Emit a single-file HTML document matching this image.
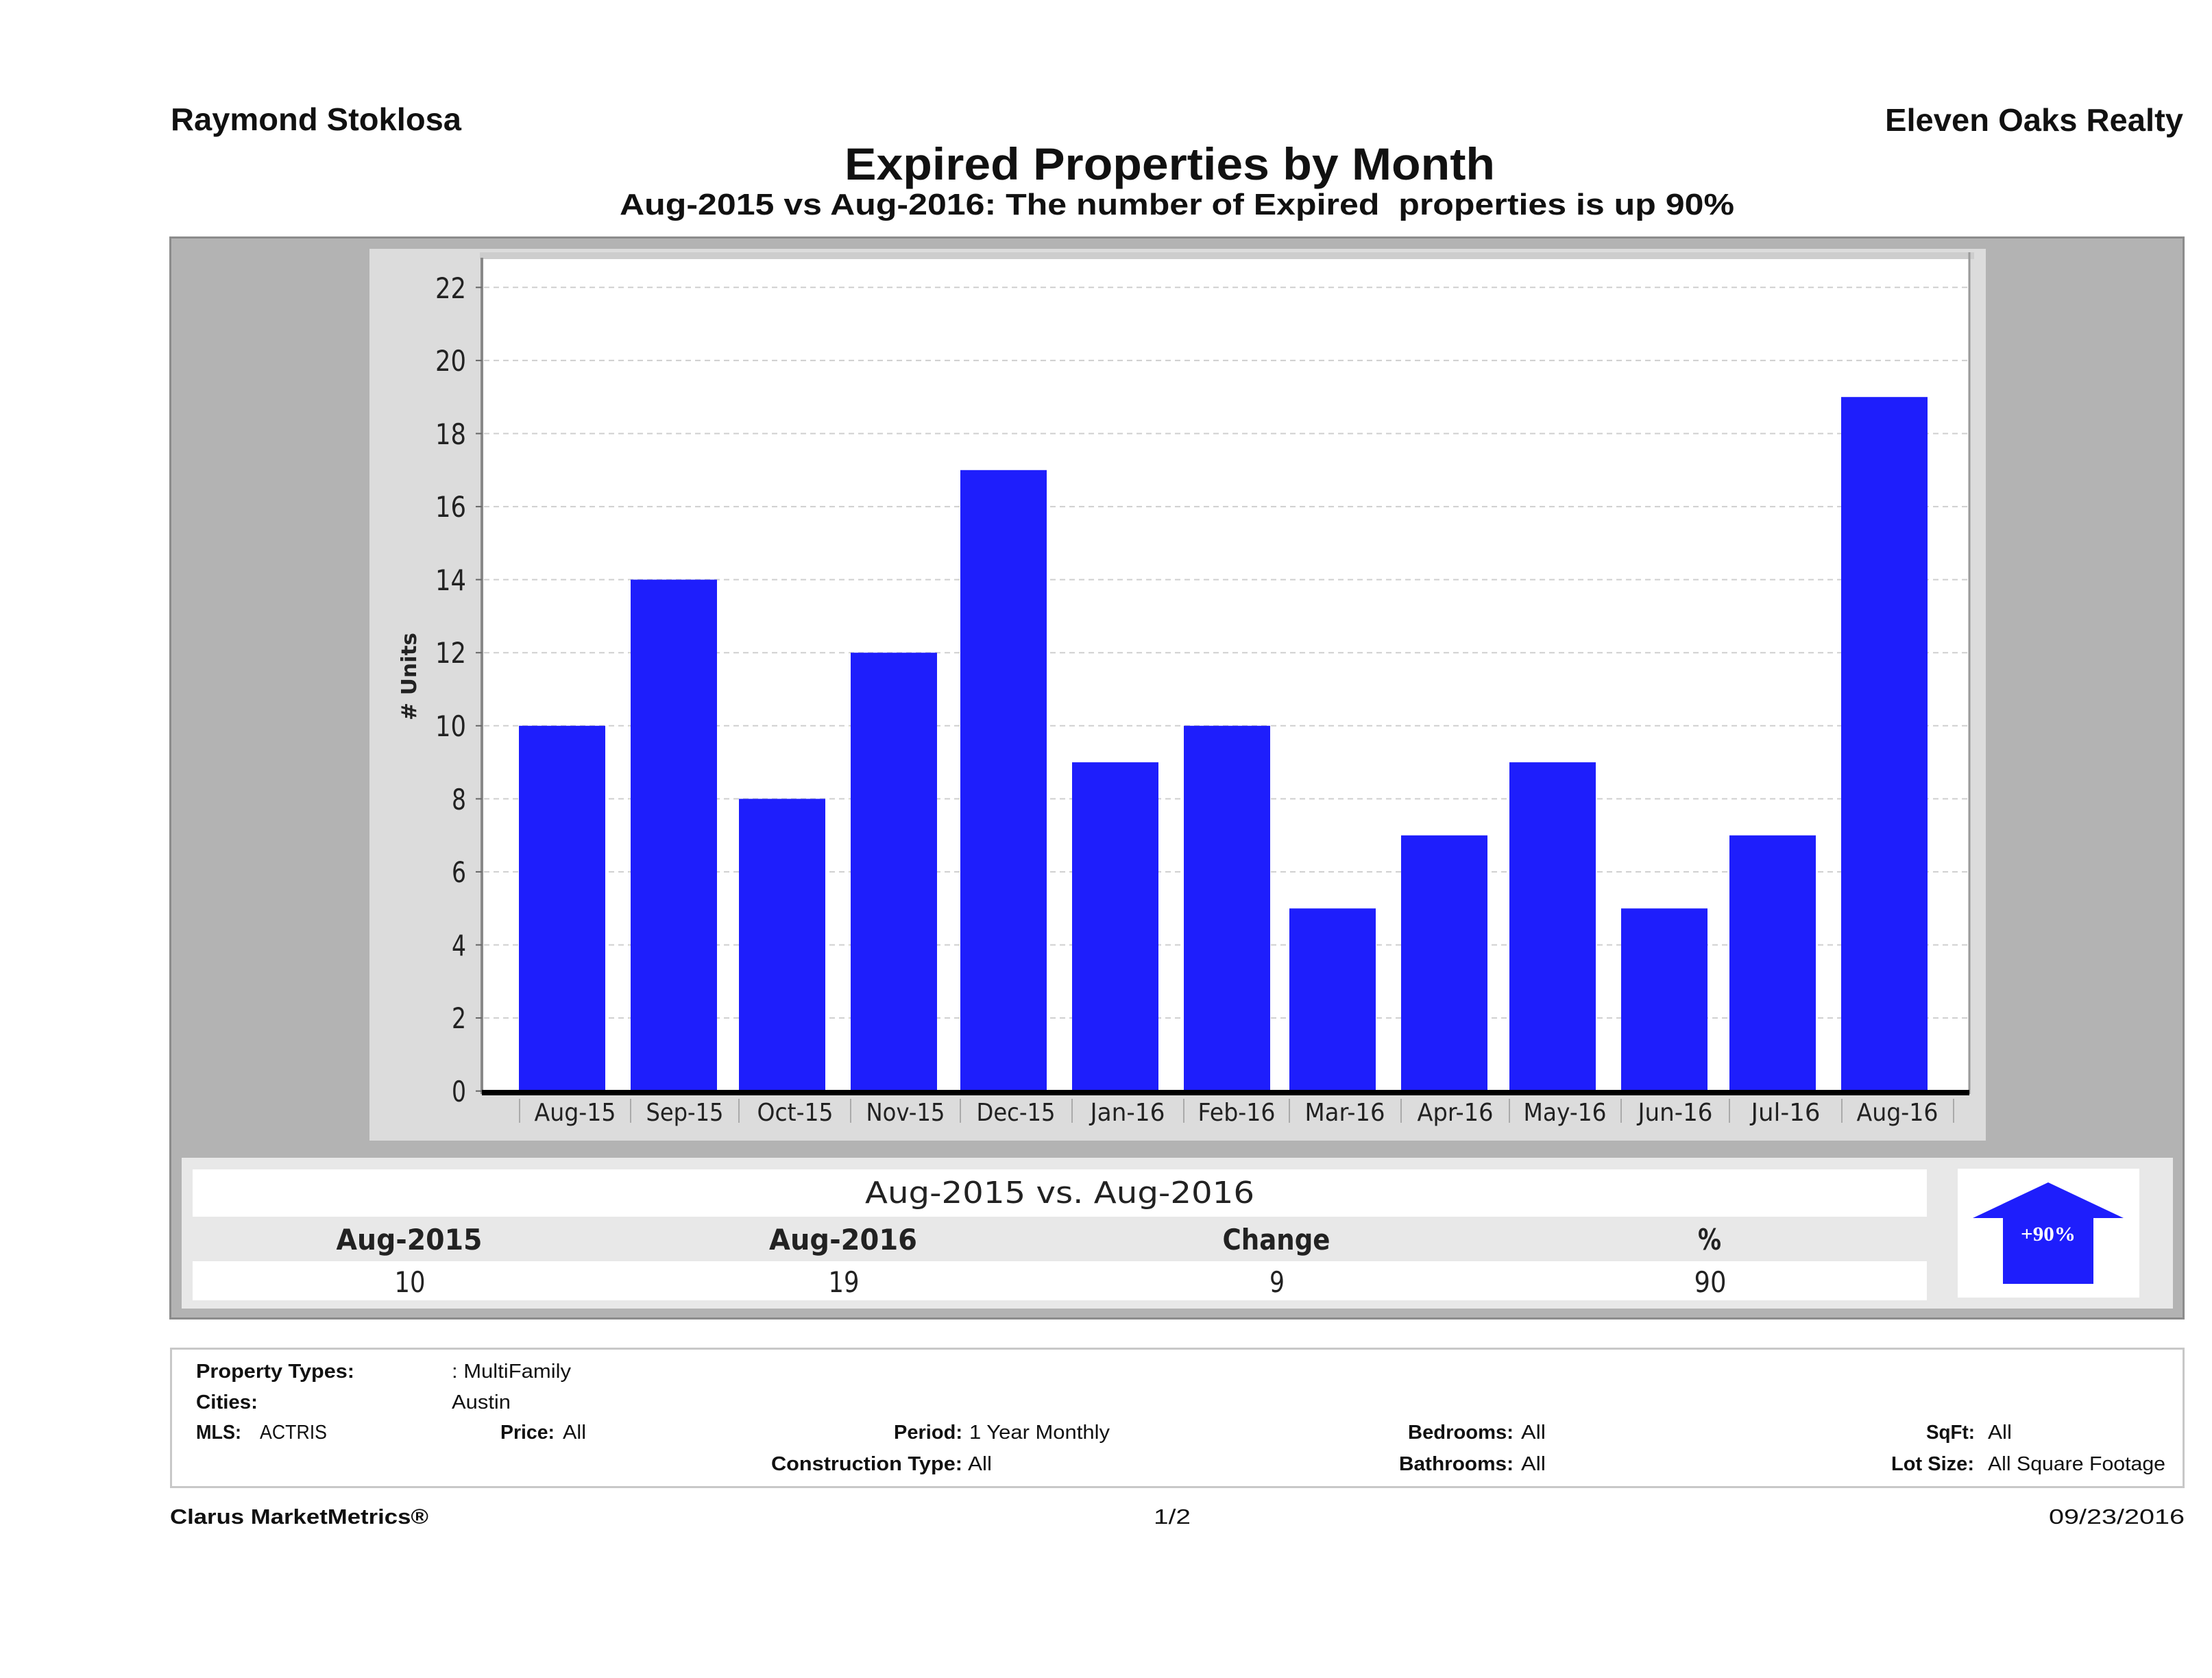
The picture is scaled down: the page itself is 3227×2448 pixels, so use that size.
<!DOCTYPE html>
<html>
<head>
<meta charset="utf-8">
<style>
html,body{margin:0;padding:0;background:#fff;}
svg{display:block;}
text{white-space:pre;}
.h{font-family:"Liberation Sans",sans-serif;font-weight:bold;fill:#111;}
.ax{font-family:"DejaVu Sans","Liberation Sans",sans-serif;fill:#222;}
.lb{font-family:"Liberation Sans",sans-serif;font-weight:bold;fill:#111;font-size:29px;}
.vl{font-family:"Liberation Sans",sans-serif;fill:#111;font-size:29px;}
</style>
</head>
<body>
<svg width="3227" height="2448" viewBox="0 0 3227 2448" xmlns="http://www.w3.org/2000/svg">
<rect x="0" y="0" width="3227" height="2448" fill="#fff"/>

<!-- header -->
<text class="h" x="249" y="190" font-size="46" textLength="424" lengthAdjust="spacingAndGlyphs">Raymond Stoklosa</text>
<text class="h" x="3185" y="191" font-size="46" text-anchor="end" textLength="435" lengthAdjust="spacingAndGlyphs">Eleven Oaks Realty</text>
<text class="h" x="1232" y="262" font-size="66" textLength="949" lengthAdjust="spacingAndGlyphs">Expired Properties by Month</text>
<text class="h" x="904" y="313" font-size="44" textLength="1626" lengthAdjust="spacingAndGlyphs">Aug-2015 vs Aug-2016: The number of Expired  properties is up 90%</text>

<!-- outer gray panel -->
<rect x="248.5" y="346.5" width="2937" height="1577" fill="#b3b3b3" stroke="#8c8c8c" stroke-width="3"/>
<!-- inner chart panel -->
<rect x="539" y="363" width="2358" height="1301" fill="#dcdcdc"/>
<!-- plot area -->
<rect x="700" y="368" width="2180" height="10" fill="#cdcdcd"/>
<rect x="703" y="378" width="2169" height="1216" fill="#fff"/>
<line x1="2873" y1="368" x2="2873" y2="1596" stroke="#9a9a9a" stroke-width="3"/>

<!-- gridlines -->
<g stroke="#cfcfcf" stroke-width="2" stroke-dasharray="8,6">
<line x1="706" y1="1485.1" x2="2871" y2="1485.1"/>
<line x1="706" y1="1378.5" x2="2871" y2="1378.5"/>
<line x1="706" y1="1271.9" x2="2871" y2="1271.9"/>
<line x1="706" y1="1165.4" x2="2871" y2="1165.4"/>
<line x1="706" y1="1058.8" x2="2871" y2="1058.8"/>
<line x1="706" y1="952.2" x2="2871" y2="952.2"/>
<line x1="706" y1="845.6" x2="2871" y2="845.6"/>
<line x1="706" y1="739.1" x2="2871" y2="739.1"/>
<line x1="706" y1="632.5" x2="2871" y2="632.5"/>
<line x1="706" y1="525.9" x2="2871" y2="525.9"/>
<line x1="706" y1="419.3" x2="2871" y2="419.3"/>
</g>

<!-- y axis -->
<line x1="703" y1="376" x2="703" y2="1596" stroke="#888" stroke-width="4"/>
<g stroke="#666" stroke-width="2">
<line x1="694" y1="1591.7" x2="703" y2="1591.7"/>
<line x1="694" y1="1485.1" x2="703" y2="1485.1"/>
<line x1="694" y1="1378.5" x2="703" y2="1378.5"/>
<line x1="694" y1="1271.9" x2="703" y2="1271.9"/>
<line x1="694" y1="1165.4" x2="703" y2="1165.4"/>
<line x1="694" y1="1058.8" x2="703" y2="1058.8"/>
<line x1="694" y1="952.2" x2="703" y2="952.2"/>
<line x1="694" y1="845.6" x2="703" y2="845.6"/>
<line x1="694" y1="739.1" x2="703" y2="739.1"/>
<line x1="694" y1="632.5" x2="703" y2="632.5"/>
<line x1="694" y1="525.9" x2="703" y2="525.9"/>
<line x1="694" y1="419.3" x2="703" y2="419.3"/>
</g>
<g class="ax" font-size="42" text-anchor="end">
<text x="680" y="1607" textLength="21" lengthAdjust="spacingAndGlyphs">0</text>
<text x="680" y="1500" textLength="21" lengthAdjust="spacingAndGlyphs">2</text>
<text x="680" y="1394" textLength="21" lengthAdjust="spacingAndGlyphs">4</text>
<text x="680" y="1287" textLength="21" lengthAdjust="spacingAndGlyphs">6</text>
<text x="680" y="1181" textLength="21" lengthAdjust="spacingAndGlyphs">8</text>
<text x="680" y="1074" textLength="45" lengthAdjust="spacingAndGlyphs">10</text>
<text x="680" y="967" textLength="45" lengthAdjust="spacingAndGlyphs">12</text>
<text x="680" y="861" textLength="45" lengthAdjust="spacingAndGlyphs">14</text>
<text x="680" y="754" textLength="45" lengthAdjust="spacingAndGlyphs">16</text>
<text x="680" y="648" textLength="45" lengthAdjust="spacingAndGlyphs">18</text>
<text x="680" y="541" textLength="45" lengthAdjust="spacingAndGlyphs">20</text>
<text x="680" y="435" textLength="45" lengthAdjust="spacingAndGlyphs">22</text>
</g>
<text class="ax" font-weight="bold" font-size="30" text-anchor="middle" transform="translate(607,987) rotate(-90)" textLength="128" lengthAdjust="spacingAndGlyphs"># Units</text>

<!-- bars -->
<g fill="#1e1efc">
<rect x="757" y="1058.8" width="126" height="533"/>
<rect x="920" y="845.6" width="126" height="746"/>
<rect x="1078" y="1165.4" width="126" height="427"/>
<rect x="1241" y="952.2" width="126" height="640"/>
<rect x="1401" y="685.8" width="126" height="906"/>
<rect x="1564" y="1112.1" width="126" height="480"/>
<rect x="1727" y="1058.8" width="126" height="533"/>
<rect x="1881" y="1325.3" width="126" height="267"/>
<rect x="2044" y="1218.7" width="126" height="373"/>
<rect x="2202" y="1112.1" width="126" height="480"/>
<rect x="2365" y="1325.3" width="126" height="267"/>
<rect x="2523" y="1218.7" width="126" height="373"/>
<rect x="2686" y="579.2" width="126" height="1013"/>
</g>

<!-- x axis -->
<rect x="703" y="1590" width="2170" height="8" fill="#000"/>
<g stroke="#aaa" stroke-width="2">
<line x1="758" y1="1603" x2="758" y2="1638"/>
<line x1="920" y1="1603" x2="920" y2="1638"/>
<line x1="1078" y1="1603" x2="1078" y2="1638"/>
<line x1="1241" y1="1603" x2="1241" y2="1638"/>
<line x1="1401" y1="1603" x2="1401" y2="1638"/>
<line x1="1564" y1="1603" x2="1564" y2="1638"/>
<line x1="1727" y1="1603" x2="1727" y2="1638"/>
<line x1="1881" y1="1603" x2="1881" y2="1638"/>
<line x1="2044" y1="1603" x2="2044" y2="1638"/>
<line x1="2202" y1="1603" x2="2202" y2="1638"/>
<line x1="2365" y1="1603" x2="2365" y2="1638"/>
<line x1="2523" y1="1603" x2="2523" y2="1638"/>
<line x1="2687" y1="1603" x2="2687" y2="1638"/>
<line x1="2850" y1="1603" x2="2850" y2="1638"/>
</g>
<g class="ax" font-size="36" text-anchor="middle">
<text x="839" y="1635" textLength="119" lengthAdjust="spacingAndGlyphs">Aug-15</text>
<text x="999" y="1635" textLength="113" lengthAdjust="spacingAndGlyphs">Sep-15</text>
<text x="1160" y="1635" textLength="111" lengthAdjust="spacingAndGlyphs">Oct-15</text>
<text x="1321" y="1635" textLength="115" lengthAdjust="spacingAndGlyphs">Nov-15</text>
<text x="1482" y="1635" textLength="115" lengthAdjust="spacingAndGlyphs">Dec-15</text>
<text x="1645" y="1635" textLength="109" lengthAdjust="spacingAndGlyphs">Jan-16</text>
<text x="1804" y="1635" textLength="113" lengthAdjust="spacingAndGlyphs">Feb-16</text>
<text x="1962" y="1635" textLength="117" lengthAdjust="spacingAndGlyphs">Mar-16</text>
<text x="2123" y="1635" textLength="111" lengthAdjust="spacingAndGlyphs">Apr-16</text>
<text x="2283" y="1635" textLength="121" lengthAdjust="spacingAndGlyphs">May-16</text>
<text x="2444" y="1635" textLength="109" lengthAdjust="spacingAndGlyphs">Jun-16</text>
<text x="2605" y="1635" textLength="101" lengthAdjust="spacingAndGlyphs">Jul-16</text>
<text x="2768" y="1635" textLength="119" lengthAdjust="spacingAndGlyphs">Aug-16</text>
</g>

<!-- summary -->
<rect x="265" y="1689" width="2905" height="220" fill="#e8e8e8"/>
<rect x="281" y="1706" width="2530" height="69" fill="#fff"/>
<rect x="281" y="1840" width="2530" height="57" fill="#fff"/>
<text class="ax" x="1546" y="1755" font-size="44" text-anchor="middle" textLength="568" lengthAdjust="spacingAndGlyphs" fill="#111">Aug-2015 vs. Aug-2016</text>
<g class="ax" font-size="42" font-weight="bold" text-anchor="middle" fill="#111">
<text x="597" y="1823" textLength="213" lengthAdjust="spacingAndGlyphs">Aug-2015</text>
<text x="1230" y="1823" textLength="216" lengthAdjust="spacingAndGlyphs">Aug-2016</text>
<text x="1862" y="1823" textLength="157" lengthAdjust="spacingAndGlyphs">Change</text>
<text x="2494" y="1823" textLength="34" lengthAdjust="spacingAndGlyphs">%</text>
</g>
<g class="ax" font-size="42" text-anchor="middle" fill="#111">
<text x="598" y="1885" textLength="45" lengthAdjust="spacingAndGlyphs">10</text>
<text x="1231" y="1885" textLength="45" lengthAdjust="spacingAndGlyphs">19</text>
<text x="1863" y="1885" textLength="22" lengthAdjust="spacingAndGlyphs">9</text>
<text x="2495" y="1885" textLength="47" lengthAdjust="spacingAndGlyphs">90</text>
</g>
<rect x="2856" y="1705" width="265" height="188" fill="#fff"/>
<polygon points="2988,1725 3098,1777 3054,1777 3054,1873 2922,1873 2922,1777 2878,1777" fill="#1e1efc"/>
<text x="2988" y="1810" font-family="'Liberation Serif',serif" font-weight="bold" font-size="30" fill="#fff" text-anchor="middle" textLength="80" lengthAdjust="spacingAndGlyphs">+90%</text>

<!-- info box -->
<rect x="249.5" y="1967.5" width="2936" height="202" fill="#fff" stroke="#c8c8c8" stroke-width="3"/>
<text class="lb" x="286" y="2010" textLength="231" lengthAdjust="spacingAndGlyphs">Property Types:</text>
<text class="vl" x="659" y="2010" textLength="174" lengthAdjust="spacingAndGlyphs">: MultiFamily</text>
<text class="lb" x="286" y="2055" textLength="90" lengthAdjust="spacingAndGlyphs">Cities:</text>
<text class="vl" x="659" y="2055" textLength="86" lengthAdjust="spacingAndGlyphs">Austin</text>
<text class="lb" x="286" y="2099" textLength="66" lengthAdjust="spacingAndGlyphs">MLS:</text>
<text class="vl" x="379" y="2099" textLength="98" lengthAdjust="spacingAndGlyphs">ACTRIS</text>
<text class="lb" x="730" y="2099" textLength="79" lengthAdjust="spacingAndGlyphs">Price:</text>
<text class="vl" x="821" y="2099" textLength="34" lengthAdjust="spacingAndGlyphs">All</text>
<text class="lb" x="1304" y="2099" textLength="100" lengthAdjust="spacingAndGlyphs">Period:</text>
<text class="vl" x="1414" y="2099" textLength="205" lengthAdjust="spacingAndGlyphs">1 Year Monthly</text>
<text class="lb" x="1125" y="2145" textLength="279" lengthAdjust="spacingAndGlyphs">Construction Type:</text>
<text class="vl" x="1412" y="2145" textLength="35" lengthAdjust="spacingAndGlyphs">All</text>
<text class="lb" x="2054" y="2099" textLength="154" lengthAdjust="spacingAndGlyphs">Bedrooms:</text>
<text class="vl" x="2219" y="2099" textLength="36" lengthAdjust="spacingAndGlyphs">All</text>
<text class="lb" x="2041" y="2145" textLength="167" lengthAdjust="spacingAndGlyphs">Bathrooms:</text>
<text class="vl" x="2219" y="2145" textLength="36" lengthAdjust="spacingAndGlyphs">All</text>
<text class="lb" x="2810" y="2099" textLength="71" lengthAdjust="spacingAndGlyphs">SqFt:</text>
<text class="vl" x="2900" y="2099" textLength="35" lengthAdjust="spacingAndGlyphs">All</text>
<text class="lb" x="2759" y="2145" textLength="121" lengthAdjust="spacingAndGlyphs">Lot Size:</text>
<text class="vl" x="2900" y="2145" textLength="259" lengthAdjust="spacingAndGlyphs">All Square Footage</text>

<!-- footer -->
<text class="h" x="248" y="2223" font-size="31" textLength="377" lengthAdjust="spacingAndGlyphs">Clarus MarketMetrics®</text>
<text class="vl" x="1683" y="2223" font-size="31" style="font-size:31px" textLength="54" lengthAdjust="spacingAndGlyphs">1/2</text>
<text class="vl" x="2989" y="2223" style="font-size:31px" textLength="198" lengthAdjust="spacingAndGlyphs">09/23/2016</text>
</svg>
</body>
</html>
